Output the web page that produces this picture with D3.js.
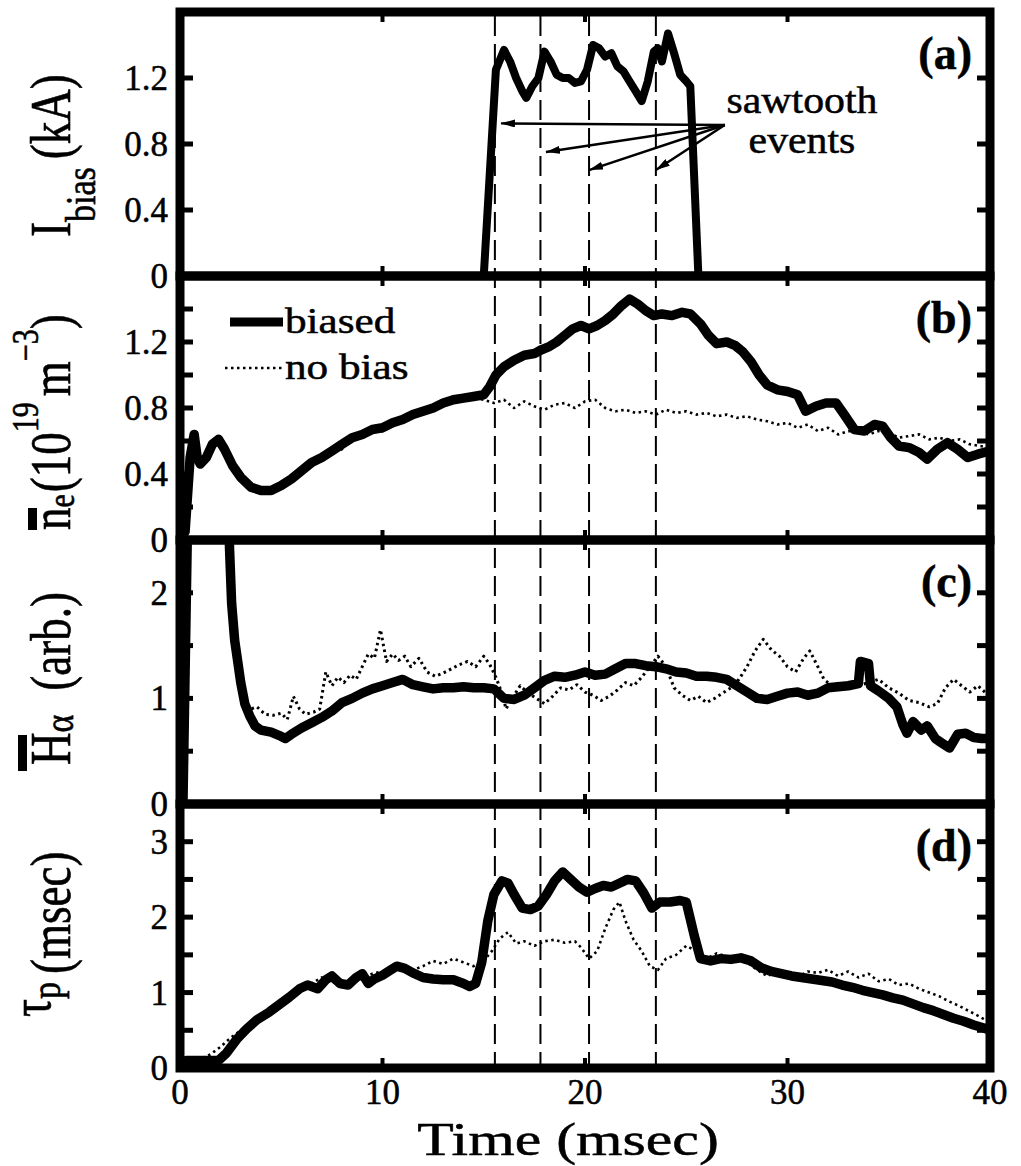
<!DOCTYPE html>
<html><head><meta charset="utf-8">
<script src="https://cdn.jsdelivr.net/npm/d3@7"></script>
<style>body{margin:0;background:#fff}svg{display:block}
svg text{font-family:"Liberation Serif","DejaVu Serif","Times New Roman",serif;stroke:#000;stroke-width:0.5;}</style>
</head><body><svg id="c" width="1021" height="1166"></svg>
<script>
// ---------------- DATA ----------------
const xTickLabels = ["0","10","20","30","40"];
const sawtoothTimes = [15.55, 17.8, 20.2, 23.5];
const panelNames = ["(a)","(b)","(c)","(d)"];
const panelMax = [1.6, 1.6, 2.5, 3.5];
const yTickLabelsA = ["0","0.4","0.8","1.2"];
const yTickLabelsB = ["0","0.4","0.8","1.2"];
const yTickLabelsC = ["0","1","2"];
const yTickLabelsD = ["0","1","2","3"];
const yTickMarksA = [0.4,0.8,1.2];
const yTickMarksB = [0.2,0.4,0.6,0.8,1.0,1.2,1.4];
const yTickMarksC = [0.5,1,1.5,2];
const yTickMarksD = [0.5,1,1.5,2,2.5,3];
const legendLabels = ["biased","no bias"];
const annotationLines = ["sawtooth","events"];
// arrow origin and tips (time, kA) in panel (a)
const arrowOrigin = [26.9, 0.915];
const arrowTips = [[15.85, 0.925],[18.07, 0.752],[20.2, 0.642],[23.5, 0.642]];

// (a) bias current, kA
const ibias = [[0,0],[15.0,0],[15.6,1.25],[16.0,1.37],[16.3,1.3],[16.6,1.2],[16.9,1.12],[17.1,1.08],[17.4,1.15],[17.7,1.2],[18.0,1.36],[18.3,1.3],[18.6,1.22],[18.9,1.2],[19.2,1.2],[19.5,1.17],[19.8,1.18],[20.1,1.25],[20.4,1.4],[20.7,1.38],[21.0,1.33],[21.3,1.35],[21.6,1.27],[21.9,1.24],[22.2,1.18],[22.5,1.12],[22.8,1.06],[23.1,1.18],[23.4,1.36],[23.6,1.38],[23.8,1.3],[24.1,1.47],[24.4,1.35],[24.7,1.22],[25.0,1.18],[25.2,1.15],[25.6,0],[40,0]];

// (b) line-averaged density, 1e19 m^-3
const neBiased = [[0,0.02],[0.25,0.05],[0.5,0.5],[0.7,0.64],[0.85,0.5],[1.0,0.46],[1.3,0.5],[1.6,0.58],[1.9,0.61],[2.2,0.55],[2.6,0.45],[3.0,0.38],[3.5,0.32],[4.0,0.30],[4.5,0.30],[5.0,0.33],[5.5,0.37],[6.0,0.42],[6.5,0.47],[7.0,0.50],[7.5,0.54],[8.0,0.58],[8.5,0.62],[9.0,0.64],[9.5,0.67],[10.0,0.68],[10.5,0.71],[11.0,0.73],[11.5,0.76],[12.0,0.78],[12.5,0.80],[13.0,0.83],[13.5,0.85],[14.0,0.86],[14.5,0.87],[15.0,0.88],[15.3,0.93],[15.6,1.0],[16.0,1.05],[16.5,1.09],[17.0,1.12],[17.5,1.13],[17.8,1.15],[18.2,1.17],[18.6,1.2],[19.0,1.24],[19.4,1.28],[19.8,1.30],[20.2,1.28],[20.6,1.30],[21.0,1.33],[21.4,1.37],[21.8,1.42],[22.2,1.46],[22.6,1.43],[23.0,1.39],[23.4,1.36],[23.8,1.37],[24.3,1.36],[24.8,1.38],[25.2,1.37],[25.7,1.31],[26.1,1.24],[26.5,1.19],[27.0,1.20],[27.4,1.18],[27.8,1.14],[28.2,1.08],[28.6,1.00],[29.0,0.94],[29.5,0.91],[30.0,0.90],[30.5,0.88],[30.9,0.78],[31.4,0.81],[31.9,0.83],[32.4,0.83],[32.8,0.76],[33.3,0.67],[33.8,0.66],[34.3,0.70],[34.7,0.69],[35.1,0.62],[35.5,0.57],[36.0,0.56],[36.5,0.53],[36.9,0.49],[37.4,0.55],[37.9,0.59],[38.4,0.55],[38.9,0.50],[39.4,0.52],[40.0,0.54]];
const neNoBias = [[0,0.02],[0.25,0.1],[0.5,0.52],[0.7,0.6],[0.85,0.52],[1.0,0.47],[1.3,0.5],[1.6,0.57],[1.9,0.6],[2.2,0.55],[2.6,0.45],[3.0,0.39],[3.5,0.33],[4.0,0.31],[4.5,0.32],[5.0,0.35],[5.5,0.36],[6.0,0.43],[6.5,0.45],[7.0,0.50],[7.5,0.53],[8.0,0.55],[8.5,0.62],[9.0,0.62],[9.5,0.66],[10.0,0.66],[10.5,0.70],[11.0,0.71],[11.5,0.76],[12.0,0.76],[12.5,0.80],[13.0,0.82],[13.5,0.84],[14.0,0.85],[14.5,0.86],[15.0,0.85],[15.5,0.83],[16.0,0.85],[16.5,0.80],[17.0,0.84],[17.5,0.81],[18.0,0.79],[18.5,0.82],[19.0,0.83],[19.5,0.80],[20.0,0.84],[20.5,0.85],[21.0,0.80],[21.5,0.78],[22.0,0.79],[22.5,0.77],[23.0,0.78],[23.5,0.76],[24.0,0.79],[24.5,0.77],[25.0,0.78],[25.5,0.76],[26.0,0.77],[26.5,0.75],[27.0,0.76],[27.5,0.74],[28.0,0.75],[28.5,0.73],[29.0,0.72],[29.5,0.70],[30.0,0.71],[30.5,0.68],[31.0,0.70],[31.5,0.66],[32.0,0.68],[32.5,0.64],[33.0,0.66],[33.5,0.66],[34.0,0.64],[34.5,0.66],[35.0,0.65],[35.5,0.62],[36.0,0.63],[36.5,0.64],[37.0,0.61],[37.5,0.62],[38.0,0.60],[38.5,0.61],[39.0,0.58],[39.5,0.57],[40.0,0.56]];

// (c) H-alpha, arb.
const haBiased = [[0,0],[0.15,0.05],[0.4,3.0],[2.35,3.0],[2.45,2.4],[2.55,1.9],[2.7,1.55],[2.85,1.35],[3.0,1.15],[3.2,0.95],[3.45,0.83],[3.7,0.74],[4.0,0.70],[4.5,0.68],[5.0,0.64],[5.2,0.62],[5.5,0.66],[6.0,0.72],[6.5,0.77],[7.0,0.82],[7.5,0.88],[8.0,0.96],[8.5,1.0],[9.0,1.05],[9.5,1.09],[10.0,1.12],[10.5,1.15],[11.0,1.18],[11.5,1.13],[12.0,1.11],[12.5,1.09],[13.0,1.1],[13.5,1.1],[14.0,1.11],[14.5,1.1],[15.0,1.1],[15.5,1.09],[16.0,1.0],[16.5,0.99],[17.0,1.03],[17.5,1.1],[18.0,1.17],[18.5,1.21],[19.0,1.2],[19.5,1.22],[20.0,1.25],[20.5,1.22],[21.0,1.23],[21.5,1.28],[22.0,1.33],[22.5,1.33],[23.0,1.31],[23.5,1.3],[24.0,1.28],[24.5,1.25],[25.0,1.24],[25.5,1.21],[26.0,1.21],[26.5,1.2],[27.0,1.18],[27.5,1.12],[28.0,1.06],[28.5,1.0],[29.0,0.99],[29.5,1.02],[30.0,1.05],[30.5,1.06],[31.0,1.03],[31.5,1.05],[32.0,1.1],[32.5,1.11],[33.0,1.12],[33.5,1.14],[33.6,1.35],[34.0,1.33],[34.1,1.12],[34.5,1.07],[35.0,1.0],[35.4,0.92],[35.7,0.75],[35.9,0.67],[36.2,0.78],[36.6,0.7],[36.9,0.74],[37.3,0.62],[37.6,0.58],[38.0,0.53],[38.4,0.66],[38.8,0.67],[39.2,0.63],[39.6,0.62],[40.0,0.62]];
const haNoBias = [[0,0],[0.15,0.1],[0.35,3.0],[2.25,3.0],[2.4,2.2],[2.6,1.6],[2.85,1.25],[3.1,1.0],[3.5,0.9],[3.8,0.92],[4.2,0.85],[4.6,0.84],[5.0,0.86],[5.3,0.8],[5.6,1.02],[5.9,0.9],[6.2,0.85],[6.6,0.87],[6.9,0.9],[7.2,1.25],[7.5,1.12],[7.8,1.2],[8.1,1.15],[8.4,1.22],[8.7,1.18],[9.0,1.3],[9.3,1.42],[9.6,1.38],[9.9,1.65],[10.2,1.35],[10.5,1.42],[10.8,1.36],[11.1,1.4],[11.4,1.3],[11.8,1.38],[12.2,1.25],[12.6,1.21],[13.0,1.24],[13.4,1.28],[13.8,1.32],[14.2,1.35],[14.6,1.3],[15.0,1.4],[15.3,1.32],[15.6,1.2],[15.9,1.05],[16.1,0.9],[16.4,1.0],[16.8,1.12],[17.2,1.05],[17.6,1.0],[18.0,0.95],[18.4,1.02],[18.8,1.1],[19.2,1.08],[19.6,1.13],[20.0,1.06],[20.4,1.03],[20.8,0.98],[21.2,1.02],[21.6,1.08],[22.0,1.15],[22.4,1.12],[22.8,1.2],[23.2,1.3],[23.6,1.4],[24.0,1.3],[24.4,1.1],[24.8,1.03],[25.2,0.98],[25.6,1.02],[26.0,0.96],[26.4,1.0],[26.8,1.05],[27.2,1.1],[27.6,1.18],[28.0,1.3],[28.4,1.45],[28.8,1.56],[29.2,1.46],[29.6,1.4],[30.0,1.3],[30.4,1.25],[30.8,1.38],[31.1,1.45],[31.5,1.3],[31.8,1.18],[32.2,1.12],[32.6,1.15],[33.0,1.1],[33.5,1.12],[34.0,1.15],[34.5,1.18],[35.0,1.1],[35.5,1.05],[36.0,0.98],[36.5,0.96],[37.0,0.92],[37.4,0.95],[37.8,1.1],[38.2,1.18],[38.6,1.12],[39.0,1.06],[39.4,1.12],[39.8,1.05],[40.0,1.0]];

// (d) particle confinement time, msec
const tauBiased = [[0,0.05],[0.3,0.1],[1.0,0.1],[1.9,0.1],[2.3,0.2],[2.8,0.38],[3.3,0.52],[3.8,0.64],[4.4,0.74],[4.9,0.84],[5.4,0.94],[5.9,1.05],[6.3,1.1],[6.8,1.05],[7.2,1.17],[7.5,1.22],[7.9,1.12],[8.3,1.1],[8.7,1.2],[9.0,1.25],[9.3,1.12],[9.6,1.18],[10.0,1.23],[10.4,1.3],[10.7,1.35],[11.1,1.32],[11.5,1.26],[12.0,1.2],[12.5,1.18],[13.0,1.17],[13.5,1.17],[14.0,1.12],[14.3,1.08],[14.6,1.12],[14.9,1.4],[15.2,1.95],[15.5,2.3],[15.9,2.48],[16.2,2.45],[16.5,2.3],[16.9,2.12],[17.3,2.1],[17.7,2.15],[18.1,2.3],[18.5,2.48],[18.9,2.6],[19.3,2.5],[19.7,2.4],[20.1,2.33],[20.5,2.38],[20.9,2.42],[21.3,2.4],[21.7,2.45],[22.1,2.5],[22.5,2.48],[22.9,2.32],[23.3,2.12],[23.7,2.2],[24.2,2.2],[24.7,2.22],[25.0,2.2],[25.4,1.75],[25.7,1.45],[26.2,1.42],[26.7,1.45],[27.2,1.44],[27.7,1.46],[28.2,1.42],[28.7,1.33],[29.2,1.28],[29.7,1.25],[30.2,1.22],[30.7,1.2],[31.2,1.18],[31.7,1.16],[32.2,1.14],[32.7,1.1],[33.2,1.07],[33.7,1.03],[34.2,1.0],[34.7,0.97],[35.2,0.93],[35.7,0.9],[36.2,0.85],[36.7,0.8],[37.2,0.76],[37.7,0.71],[38.2,0.66],[38.7,0.62],[39.2,0.57],[39.7,0.53],[40.0,0.5]];
const tauNoBias = [[0,0.05],[0.3,0.1],[1.0,0.12],[1.5,0.18],[2.0,0.28],[2.5,0.4],[3.0,0.5],[3.5,0.62],[4.0,0.7],[4.5,0.8],[5.0,0.9],[5.5,1.0],[6.0,1.08],[6.5,1.12],[7.0,1.2],[7.5,1.15],[8.0,1.08],[8.5,1.12],[9.0,1.2],[9.5,1.25],[10.0,1.28],[10.5,1.3],[11.0,1.33],[11.5,1.3],[12.0,1.35],[12.5,1.42],[13.0,1.38],[13.5,1.45],[14.0,1.4],[14.5,1.35],[15.0,1.42],[15.4,1.55],[15.8,1.72],[16.2,1.8],[16.6,1.65],[17.0,1.68],[17.5,1.62],[18.0,1.68],[18.5,1.7],[19.0,1.66],[19.5,1.68],[19.8,1.6],[20.2,1.45],[20.6,1.55],[21.0,1.85],[21.4,2.1],[21.7,2.2],[22.0,1.95],[22.4,1.7],[22.8,1.55],[23.2,1.35],[23.6,1.3],[24.0,1.45],[24.5,1.5],[25.0,1.62],[25.5,1.55],[26.0,1.45],[26.5,1.52],[27.0,1.48],[27.5,1.45],[28.0,1.4],[28.5,1.3],[29.0,1.22],[29.5,1.28],[30.0,1.25],[30.5,1.2],[31.0,1.28],[31.5,1.26],[32.0,1.3],[32.5,1.22],[33.0,1.28],[33.5,1.2],[34.0,1.25],[34.5,1.15],[35.0,1.18],[35.5,1.1],[36.0,1.12],[36.5,1.05],[37.0,1.0],[37.5,0.95],[38.0,0.88],[38.5,0.82],[39.0,0.75],[39.5,0.68],[40.0,0.6]];

// ---------------- DRAW ----------------
const L = 180, R = 990, TOP = 12, PH = 264;
const svg = d3.select('#c');
const x = d3.scaleLinear().domain([0, 40]).range([L, R]);
const ys = panelMax.map((m, i) => d3.scaleLinear().domain([0, m]).range([TOP + PH * (i + 1), TOP + PH * i]));
const defs = svg.append('defs');
ys.forEach((y, i) => {
  defs.append('clipPath').attr('id', 'clip' + i).append('rect')
    .attr('x', L).attr('y', TOP + PH * i).attr('width', R - L).attr('height', PH);
});
defs.append('marker').attr('id', 'ah').attr('viewBox', '0 0 14 8').attr('refX', 14).attr('refY', 4)
  .attr('markerWidth', 14).attr('markerHeight', 8).attr('markerUnits', 'userSpaceOnUse').attr('orient', 'auto')
  .append('path').attr('d', 'M0,0 L14,4 L0,8 Z').attr('fill', '#000');

const DOT = '2.5,3.5';
const series = [
  [{d: ibias, w: 8, dot: false}],
  [{d: neNoBias, w: 2.6, dot: true}, {d: neBiased, w: 9.5, dot: false}],
  [{d: haNoBias, w: 3, dot: true}, {d: haBiased, w: 9.5, dot: false}],
  [{d: tauNoBias, w: 2.6, dot: true}, {d: tauBiased, w: 9.5, dot: false}]
];
series.forEach((list, i) => {
  const g = svg.append('g').attr('clip-path', `url(#clip${i})`);
  const line = d3.line().x(d => x(d[0])).y(d => ys[i](d[1]));
  list.forEach(s => {
    g.append('path').attr('d', line(s.d)).attr('fill', 'none').attr('stroke', '#000')
      .attr('stroke-width', s.w).attr('stroke-linejoin', 'round').attr('stroke-linecap', s.dot ? 'butt' : 'round')
      .attr('stroke-dasharray', s.dot ? DOT : null);
  });
});

// sawtooth dashed lines
svg.append('g').selectAll('line').data(sawtoothTimes).join('line')
  .attr('x1', d => x(d)).attr('x2', d => x(d)).attr('y1', TOP + 4).attr('y2', TOP + 4 * PH - 4)
  .attr('stroke', '#000').attr('stroke-width', 2).attr('stroke-dasharray', '20,8');

// arrows
svg.append('g').selectAll('line').data(arrowTips).join('line')
  .attr('x1', x(arrowOrigin[0])).attr('y1', ys[0](arrowOrigin[1]))
  .attr('x2', d => x(d[0])).attr('y2', d => ys[0](d[1]))
  .attr('stroke', '#000').attr('stroke-width', 2.5).attr('marker-end', 'url(#ah)');

// frames, ticks, labels
const yTickLabels = [yTickLabelsA, yTickLabelsB, yTickLabelsC, yTickLabelsD];
const yTickMarks = [yTickMarksA, yTickMarksB, yTickMarksC, yTickMarksD];
ys.forEach((y, i) => {
  const g = svg.append('g');
  g.append('rect').attr('x', L).attr('y', TOP + PH * i).attr('width', R - L).attr('height', PH)
    .attr('fill', 'none').attr('stroke', '#000').attr('stroke-width', 9);
  yTickMarks[i].forEach(v => {
    g.append('line').attr('x1', L).attr('x2', L + 13).attr('y1', y(v)).attr('y2', y(v)).attr('stroke', '#000').attr('stroke-width', 5);
    g.append('line').attr('x1', R).attr('x2', R - 13).attr('y1', y(v)).attr('y2', y(v)).attr('stroke', '#000').attr('stroke-width', 5);
  });
  [10, 20, 30].forEach(t => {
    g.append('line').attr('x1', x(t)).attr('x2', x(t)).attr('y1', TOP + PH * (i + 1)).attr('y2', TOP + PH * (i + 1) - 10).attr('stroke', '#000').attr('stroke-width', 4);
    g.append('line').attr('x1', x(t)).attr('x2', x(t)).attr('y1', TOP + PH * i).attr('y2', TOP + PH * i + 10).attr('stroke', '#000').attr('stroke-width', 4);
  });
  yTickLabels[i].forEach(s => {
    g.append('text').attr('x', 168).attr('y', y(+s) + 12).attr('text-anchor', 'end')
      .attr('font-size', 35).text(s);
  });
  g.append('text').attr('x', 972).attr('y', TOP + PH * i + 57).attr('text-anchor', 'end')
    .attr('font-size', 46).attr('font-weight', 'bold').text(panelNames[i]);
});

// x tick labels
svg.append('g').selectAll('text').data(xTickLabels).join('text')
  .attr('x', d => x(+d)).attr('y', 1104).attr('text-anchor', 'middle')
  .attr('font-size', 35).text(d => d);

function stext(xp, yp, str, size, sx, anchor, weight) {
  svg.append('text').attr('transform', `translate(${xp},${yp}) scale(${sx},1)`)
    .attr('text-anchor', anchor).attr('font-size', size)
    .attr('font-weight', weight || 'normal').text(str);
}
stext(568, 1155, 'Time (msec)', 46, 1.3, 'middle');
stext(802, 113, annotationLines[0], 38, 1.1, 'middle');
stext(802, 153, annotationLines[1], 38, 1.1, 'middle');

// legend (panel b)
svg.append('line').attr('x1', 230).attr('x2', 283).attr('y1', 322).attr('y2', 322).attr('stroke', '#000').attr('stroke-width', 9);
svg.append('line').attr('x1', 225).attr('x2', 283).attr('y1', 368).attr('y2', 368).attr('stroke', '#000').attr('stroke-width', 2.6).attr('stroke-dasharray', DOT);
stext(285, 333, legendLabels[0], 36, 1.2, 'start');
stext(285, 379, legendLabels[1], 36, 1.2, 'start');

// y labels (rotated)
function ylab(startY, parts, bar) {
  const g = svg.append('g').attr('transform', `translate(70,${startY}) rotate(-90) scale(1,1.25)`);
  const t = g.append('text').attr('x', 0).attr('y', 0).attr('text-anchor', 'start');
  parts.forEach(p => {
    t.append('tspan').attr('font-size', p.s).attr('dy', p.dy || 0).attr('dx', p.dx || 0).text(p.t);
  });
  if (bar) g.append('rect').attr('x', bar[0]).attr('y', bar[1]).attr('width', bar[2]).attr('height', bar[3]).attr('fill', '#000');
}
ylab(237, [{t: 'I', s: 45}, {t: 'bias', s: 34, dy: 20}, {t: '(kA)', s: 45, dy: -20, dx: 8}]);
ylab(530, [{t: 'n', s: 45}, {t: 'e', s: 30, dy: 3}, {t: '(10', s: 45, dy: -3, dx: 2}, {t: '19', s: 30, dy: -26},
           {t: 'm', s: 45, dy: 26, dx: 6}, {t: '\u22123', s: 30, dy: -26}, {t: ')', s: 45, dy: 26}], [0, -33.6, 22, 7.2]);
ylab(765, [{t: 'H', s: 45}, {t: '\u03b1', s: 34, dy: 2}, {t: '(arb.)', s: 45, dy: -2, dx: 24}], [-6, -41.6, 36, 7.2]);
ylab(1017, [{t: '\u03c4', s: 45, dy: -16}, {t: 'p', s: 34, dy: 8}, {t: '(msec)', s: 45, dy: 8, dx: 8}]);
</script></body></html>
